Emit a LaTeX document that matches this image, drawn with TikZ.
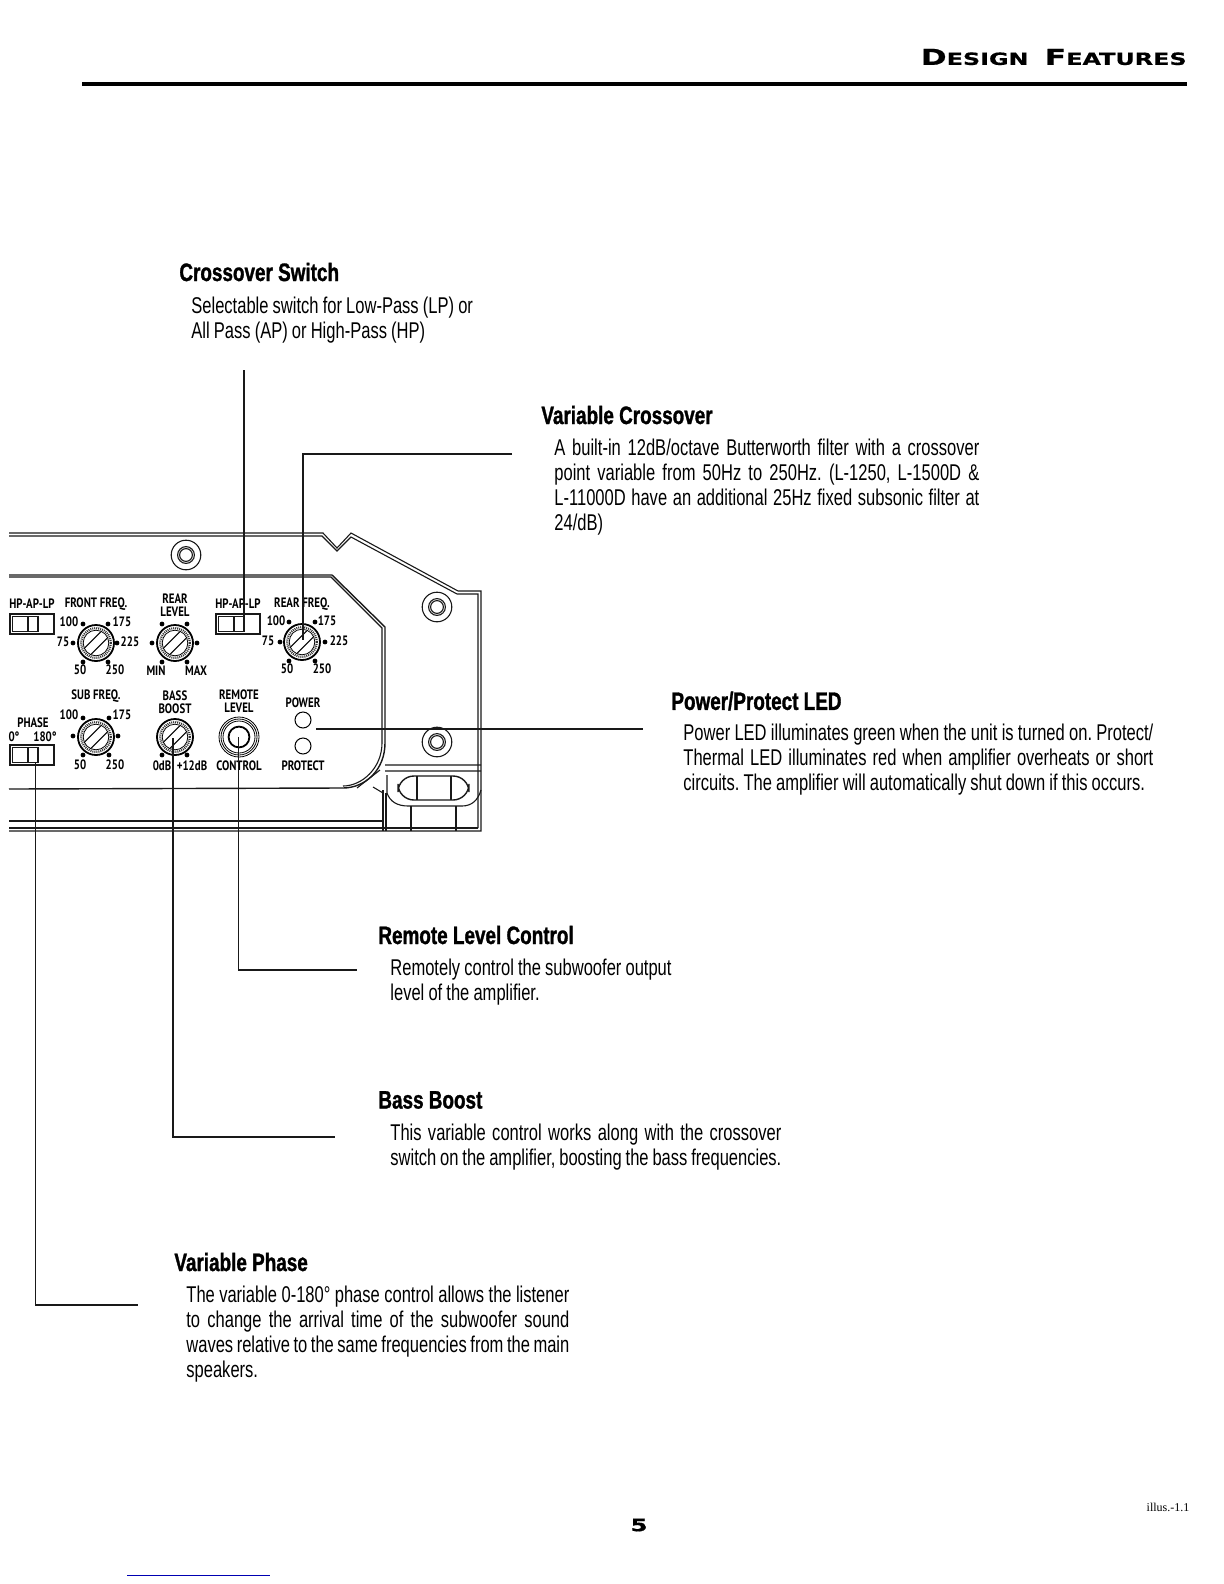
\documentclass[tikz,border=0pt]{standalone}
\usepackage{fontspec}
\setmainfont{Liberation Sans}
\newfontfamily\bodyfont[FakeStretch=0.725, WordSpace=0.9]{Liberation Sans}
\newfontfamily\headfont[FakeStretch=0.75, FakeBold=1.2]{Liberation Sans Bold}
\newfontfamily\panelfont[FakeStretch=0.8]{PT Sans}
\newfontfamily\titlefont[FakeStretch=1.42, FakeBold=0.6]{DejaVu Sans Bold}
\newfontfamily\notefont{Liberation Serif}
\tikzset{
	panel/.style={line width=.55pt, black!90},
	leader/.style={line width=.85pt, black!90},
	heading/.style={anchor=west, inner sep=0pt, font=\headfont\fontsize{12.6}{14}\selectfont},
	body/.style={anchor=north west, inner sep=0pt, font=\bodyfont\frenchspacing\fontsize{11.4}{12.35}\selectfont},
	lbl/.style={inner sep=0pt, align=center, font=\panelfont\bfseries\fontsize{6.8}{6.4}\selectfont},
	knob/.pic={
		\draw[line width=.9pt] (0,0) circle (9pt);
		\draw[line width=1.1pt, black!80, dash pattern=on .5pt off .5pt] (0,0) circle (7.4pt);
		\draw[line width=.4pt] (0,0) circle (6.4pt);
		\draw[line width=.5pt] (-5.6pt,-2.4pt) -- (2.4pt,5.6pt) (-2.4pt,-5.6pt) -- (5.6pt,2.4pt);
	},
	screw/.pic={
		\draw[panel] (0,0) circle (7.4pt) (0,0) circle (4.2pt) (0,0) circle (3.2pt);
	},
	slider/.pic={
		\draw[panel] (0,0) rectangle (22pt,-10pt) (1.2pt,-1.2pt) rectangle (14pt,-8.8pt) (9pt,-1.2pt) -- (9pt,-8.8pt);
	},
}
\begin{document}
\begin{tikzpicture}[x=.5pt, y=-.5pt]
	\useasboundingbox (0,0) rectangle (1224,1584);

	\node[anchor=east, inner sep=0pt, font=\titlefont\fontsize{8.4}{10}\selectfont] (title) at (1187,57) {{\fontsize{11}{10}\selectfont D}ESIGN\ \kern4pt{\fontsize{11}{10}\selectfont F}EATURES};
	\draw[line width=2pt] (82,84) -- (1187,84);

	\draw[panel] (9,533) -- (323,533) -- (337,548) -- (351,533) -- (458,591) -- (481,591) -- (481,831) -- (9,831);
	\draw[panel] (9,536) -- (322,536) -- (337,551) -- (351,537) -- (457,594) -- (478,594) -- (478,828);
	\draw[panel, line width=.7pt] (9,575) -- (332,575) -- (385,627) -- (385,743) .. controls (385,770) and (365,788) .. (343,788) -- (9,789);
	\draw[panel] (9,577) -- (331,577) -- (382,628) -- (382,743) .. controls (382,768) and (362,786) .. (343,786);
	\draw[panel] (9,821) -- (384,821) (9,828) -- (478,828) (383,790) -- (383,831) (386,793) -- (386,831);
	\draw[panel] (357,788) -- (380,770) (373,787) -- (383,793) (385,765) -- (481,765) (385,771) -- (481,771);
	\draw[panel] (387,775) -- (387,793) .. controls (390,802) and (398,806) .. (408,806) -- (462,806) .. controls (472,806) and (478,800) .. (481,790);
	\draw[panel, line width=.7pt, rounded corners=8pt] (398,776) rectangle (469,800);
	\draw[panel] (417,776) -- (417,800) (451,776) -- (451,800) (411,806) -- (411,831) (456,806) -- (456,831);
	\pic at (186,555) {screw};
	\pic at (437,607) {screw};
	\pic at (437,742) {screw};

	\pic at (10,614) {slider};
	\pic at (216,614) {slider};
	\pic at (10,745) {slider};
	\pic at (96,643) {knob};
	\pic at (175,643) {knob};
	\pic at (302,642) {knob};
	\pic at (96,737) {knob};
	\pic at (175,737) {knob};
	\fill (83,624) circle (1.2pt) (108,624) circle (1.2pt) (73,643) circle (1.2pt) (117,643) circle (1.2pt) (83,662) circle (1.2pt) (108,662) circle (1.2pt);
	\fill (162,624) circle (1.2pt) (187,624) circle (1.2pt) (152,643) circle (1.2pt) (197,643) circle (1.2pt) (162,662) circle (1.2pt) (187,662) circle (1.2pt);
	\fill (289,622) circle (1.2pt) (315,622) circle (1.2pt) (280,642) circle (1.2pt) (325,642) circle (1.2pt) (289,661) circle (1.2pt) (315,661) circle (1.2pt);
	\fill (83,718) circle (1.2pt) (109,718) circle (1.2pt) (73,736) circle (1.2pt) (118,736) circle (1.2pt) (83,755) circle (1.2pt) (109,755) circle (1.2pt);
	\fill (162,755) circle (1.2pt) (187,755) circle (1.2pt);
	\draw[line width=.4pt] (239,737) circle (10pt) (239,737) circle (9pt) (239,737) circle (8pt);
	\draw[line width=.9pt] (239,737) circle (5.2pt);
	\draw[line width=.5pt] (303,720) circle (4pt) (303,746) circle (4pt);

	\node[lbl] (hpf) at (32,604) {HP-AP-LP};
	\node[lbl] (ffreq) at (96,604) {FRONT FREQ.};
	\node[lbl] (f100) at (69,622) {100};
	\node[lbl] (f175) at (122,622) {175};
	\node[lbl] (f75) at (63,642) {75};
	\node[lbl] (f225) at (130,642) {225};
	\node[lbl] (f50) at (80,670) {50};
	\node[lbl] (f250) at (115,670) {250};
	\node[lbl] (rlevel) at (175,605) {REAR\\LEVEL};
	\node[lbl] (rmin) at (156,671) {MIN};
	\node[lbl] (rmax) at (196,671) {MAX};
	\node[lbl] (hpr) at (238,604) {HP-AP-LP};
	\node[lbl] (rfreq) at (302,604) {REAR FREQ.};
	\node[lbl] (r100) at (276,621) {100};
	\node[lbl] (r175) at (327,621) {175};
	\node[lbl] (r75) at (268,641) {75};
	\node[lbl] (r225) at (339,641) {225};
	\node[lbl] (r50) at (287,669) {50};
	\node[lbl] (r250) at (322,669) {250};
	\node[lbl] (sfreq) at (96,696) {SUB FREQ.};
	\node[lbl] (s100) at (69,715) {100};
	\node[lbl] (s175) at (122,715) {175};
	\node[lbl] (s50) at (80,765) {50};
	\node[lbl] (s250) at (115,765) {250};
	\node[lbl] (bboost) at (175,702) {BASS\\BOOST};
	\node[lbl] (b0) at (162,766) {0dB};
	\node[lbl] (b12) at (192,766) {+12dB};
	\node[lbl] (rmt) at (239,701) {REMOTE\\LEVEL};
	\node[lbl] (ctrl) at (239,766) {CONTROL};
	\node[lbl] (pwr) at (303,703) {POWER};
	\node[lbl] (prot) at (303,766) {PROTECT};
	\node[lbl] (phase) at (33,723) {PHASE};
	\node[lbl] (ph0) at (14,737) {0°};
	\node[lbl] (ph180) at (45,737) {180°};

	\node[heading] (xhead) at (179,272) {Crossover Switch};
	\node[body, align=left] (xbody) at (191,297) {Selectable switch for Low-Pass (LP) or\\All Pass (AP) or High-Pass (HP)};
	\node[heading] (vhead) at (541,415) {Variable Crossover};
	\node[body, text width=212.5pt, align=justify] (vbody) at (554,439) {A built-in 12dB/octave Butterworth filter with a crossover\linebreak point variable from 50Hz to 250Hz. (L-1250, L-1500D \&\linebreak L-11000D have an additional 25Hz fixed subsonic filter at\linebreak 24/dB)};
	\node[heading] (phead) at (671,701) {Power/Protect LED};
	\node[body, text width=235pt, align=justify] (pbody) at (683,724) {Power LED illuminates green when the unit is turned on. Protect/\linebreak Thermal LED illuminates red when amplifier overheats or short\linebreak circuits. The amplifier will automatically shut down if this occurs.};
	\node[heading] (rhead) at (378,935) {Remote Level Control};
	\node[body, align=left] (rbody) at (390,959) {Remotely control the subwoofer output\\level of the amplifier.};
	\node[heading] (bhead) at (378,1100) {Bass Boost};
	\node[body, text width=195.5pt, align=justify] (bbody) at (390,1124) {This variable control works along with the crossover\linebreak switch on the amplifier, boosting the bass frequencies.};
	\node[heading] (fhead) at (174,1262) {Variable Phase};
	\node[body, text width=191.5pt, align=justify] (fbody) at (186,1286) {The variable 0-180° phase control allows the listener\linebreak to change the arrival time of the subwoofer sound\linebreak waves relative to the same frequencies from the main\linebreak speakers.};

	\coordinate (xtop) at (244,370);
	\coordinate (xsw) at (244,630);
	\coordinate (vin) at (512,454);
	\coordinate (rknob) at (303,640);
	\coordinate (led) at (316,729);
	\coordinate (pin) at (643,729);
	\coordinate (jack) at (238.5,737);
	\coordinate (rin) at (357,970);
	\coordinate (bknob) at (173,738);
	\coordinate (bin) at (335,1137);
	\coordinate (phsw) at (35.5,763);
	\coordinate (fin) at (138,1305);
	\draw[leader] (xtop) -- (xsw);
	\draw[leader] (vin) -| (rknob);
	\draw[leader] (led) -- (pin);
	\draw[leader] (jack) |- (rin);
	\draw[leader] (bknob) |- (bin);
	\draw[leader] (phsw) |- (fin);

	\node[inner sep=0pt, font=\titlefont\fontsize{8.6}{10}\selectfont] (pageno) at (639,1525) {5};
	\node[inner sep=0pt, font=\notefont\fontsize{6}{7}\selectfont] (illus) at (1168,1507) {illus.-1.1};
	\coordinate (ul) at (127,1575);
	\coordinate (ur) at (270,1575);
	\draw[blue!70!black, line width=.4pt] (ul) -- (ur);
\end{tikzpicture}
\end{document}
